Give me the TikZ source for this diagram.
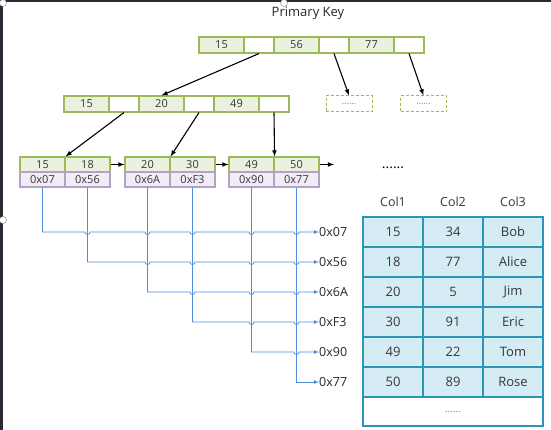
\documentclass[tikz,border=0pt]{standalone}
\usepackage{fontspec}
\setmainfont{Open Sans}
\usetikzlibrary{arrows,positioning,calc}
\definecolor{leafline}{RGB}{155,187,89}
\definecolor{keygreen}{RGB}{235,241,222}
\definecolor{addrline}{RGB}{179,162,199}
\definecolor{addrfill}{RGB}{241,236,246}
\definecolor{tabline}{RGB}{45,148,185}
\definecolor{tabfill}{RGB}{214,236,245}
\definecolor{linkblue}{RGB}{80,140,220}
\definecolor{textgray}{RGB}{55,55,55}
\definecolor{framedark}{RGB}{42,42,52}

\begin{document}
\begin{tikzpicture}[x=1pt,y=-1pt,
    every node/.style={inner sep=0pt,text=textgray,font=\fontsize{11}{13}\selectfont},
    keycell/.style={draw=leafline,fill=keygreen,line width=1.1pt,minimum width=45pt,minimum height=16pt},
    ptrcell/.style={draw=leafline,fill=white,line width=1.1pt,minimum width=30pt,minimum height=16pt},
    leafkey/.style={keycell,minimum height=15pt},
    addrcell/.style={draw=addrline,fill=addrfill,line width=1.1pt,minimum width=45pt,minimum height=15pt},
    morebox/.style={draw=leafline,densely dashed,line width=1pt,minimum width=46pt,minimum height=16pt,text=gray,font=\fontsize{9}{10}\selectfont},
    tabcell/.style={draw=tabline,fill=tabfill,line width=1.4pt,minimum width=60pt,minimum height=30pt,font=\fontsize{13}{15}\selectfont},
    hexlabel/.style={anchor=west,text=black!85,font=\fontsize{12.5}{14}\selectfont},
    tree/.style={->,>=latex,line width=1.1pt},
    addrlink/.style={->,>=latex,draw=linkblue,line width=0.8pt}]
    \useasboundingbox (0,0) rectangle (551,430);
    \fill[framedark] (0,0) rectangle (3,430);
    \fill[framedark] (0,0) rectangle (551,2);
    \draw[gray,fill=white] (3,3) circle (3.5) (284,3) circle (3.5) (3,220) circle (3.5);

    \node[text=black!85,font=\fontsize{13}{15}\selectfont] (title) at (308,13) {Primary Key};

    % root
    \node[keycell] (t15) at (221.5,45) {15};
    \node[ptrcell] (tp1) at (259,45) {};
    \node[keycell] (t56) at (296.5,45) {56};
    \node[ptrcell] (tp2) at (334,45) {};
    \node[keycell] (t77) at (371.5,45) {77};
    \node[ptrcell] (tp3) at (409,45) {};

    % inner node
    \node[keycell] (r15) at (86.5,104) {15};
    \node[ptrcell] (rp1) at (124,104) {};
    \node[keycell] (r20) at (161.5,104) {20};
    \node[ptrcell] (rp2) at (199,104) {};
    \node[keycell] (r49) at (236.5,104) {49};
    \node[ptrcell] (rp3) at (274,104) {};
    \node[morebox] (d1) at (349,104) {......};
    \node[morebox] (d2) at (423.5,104) {......};

    % leaves
    \node[leafkey] (l15) at (42.5,164.5) {15};
    \node[leafkey] (l18) at (87.5,164.5) {18};
    \node[addrcell] (a07) at (42.5,179.5) {0x07};
    \node[addrcell] (a56) at (87.5,179.5) {0x56};
    \node[leafkey] (l20) at (147.5,164.5) {20};
    \node[leafkey] (l30) at (192.5,164.5) {30};
    \node[addrcell] (a6A) at (147.5,179.5) {0x6A};
    \node[addrcell] (aF3) at (192.5,179.5) {0xF3};
    \node[leafkey] (l49) at (251.5,164.5) {49};
    \node[leafkey] (l50) at (296.5,164.5) {50};
    \node[addrcell] (a90) at (251.5,179.5) {0x90};
    \node[addrcell] (a77) at (296.5,179.5) {0x77};
    \coordinate (next) at (334,164.5);

    \draw[tree] (tp1.south) to (r20.north);
    \draw[tree] (tp2.south) to (d1.north);
    \draw[tree] (tp3.south) to (d2.north);
    \draw[tree] (rp1.south) to (l15.north east);
    \draw[tree] (rp2.south) to (l20.north east);
    \draw[tree] (rp3.south) to (l49.north east);
    \draw[tree] (l18.east) to (l20.west);
    \draw[tree] (l30.east) to (l49.west);
    \draw[tree] (l50.east) to (next);

    % row addresses
    \node[hexlabel] (h07) at (319,232) {0x07};
    \node[hexlabel] (h56) at (319,262) {0x56};
    \node[hexlabel] (h6A) at (319,292) {0x6A};
    \node[hexlabel] (hF3) at (319,322) {0xF3};
    \node[hexlabel] (h90) at (319,352) {0x90};
    \node[hexlabel] (h77) at (319,382) {0x77};

    \draw[addrlink] (a07.south) |- ($(a56.south |- h07.west)+(-2.5,0)$) arc (180:0:2.5)
      -- ($(a6A.south |- h07.west)+(-2.5,0)$) arc (180:0:2.5)
      -- ($(aF3.south |- h07.west)+(-2.5,0)$) arc (180:0:2.5)
      -- ($(a90.south |- h07.west)+(-2.5,0)$) arc (180:0:2.5)
      -- ($(a77.south |- h07.west)+(-2.5,0)$) arc (180:0:2.5) -- (h07.west);
    \draw[addrlink] (a56.south) |- ($(a6A.south |- h56.west)+(-2.5,0)$) arc (180:0:2.5)
      -- ($(aF3.south |- h56.west)+(-2.5,0)$) arc (180:0:2.5)
      -- ($(a90.south |- h56.west)+(-2.5,0)$) arc (180:0:2.5)
      -- ($(a77.south |- h56.west)+(-2.5,0)$) arc (180:0:2.5) -- (h56.west);
    \draw[addrlink] (a6A.south) |- ($(aF3.south |- h6A.west)+(-2.5,0)$) arc (180:0:2.5)
      -- ($(a90.south |- h6A.west)+(-2.5,0)$) arc (180:0:2.5)
      -- ($(a77.south |- h6A.west)+(-2.5,0)$) arc (180:0:2.5) -- (h6A.west);
    \draw[addrlink] (aF3.south) |- ($(a90.south |- hF3.west)+(-2.5,0)$) arc (180:0:2.5)
      -- ($(a77.south |- hF3.west)+(-2.5,0)$) arc (180:0:2.5) -- (hF3.west);
    \draw[addrlink] (a90.south) |- ($(a77.south |- h90.west)+(-2.5,0)$) arc (180:0:2.5) -- (h90.west);
    \draw[addrlink] (a77.south) |- (h77.west);

    % table
    \node[text=black,font=\fontsize{14}{16}\selectfont] (dots) at (393,168) {......};
    \node[font=\fontsize{12.5}{14}\selectfont] (col1) at (393,202) {Col1};
    \node[font=\fontsize{12.5}{14}\selectfont] (col2) at (453,202) {Col2};
    \node[font=\fontsize{12.5}{14}\selectfont] (col3) at (513,202) {Col3};
    \node[tabcell] (rowA1) at (393,232) {15};
    \node[tabcell] (rowA2) at (453,232) {34};
    \node[tabcell] (rowA3) at (513,232) {Bob};
    \node[tabcell] (rowB1) at (393,262) {18};
    \node[tabcell] (rowB2) at (453,262) {77};
    \node[tabcell] (rowB3) at (513,262) {Alice};
    \node[tabcell] (rowC1) at (393,292) {20};
    \node[tabcell] (rowC2) at (453,292) {5};
    \node[tabcell] (rowC3) at (513,292) {Jim};
    \node[tabcell] (rowD1) at (393,322) {30};
    \node[tabcell] (rowD2) at (453,322) {91};
    \node[tabcell] (rowD3) at (513,322) {Eric};
    \node[tabcell] (rowE1) at (393,352) {49};
    \node[tabcell] (rowE2) at (453,352) {22};
    \node[tabcell] (rowE3) at (513,352) {Tom};
    \node[tabcell] (rowF1) at (393,382) {50};
    \node[tabcell] (rowF2) at (453,382) {89};
    \node[tabcell] (rowF3) at (513,382) {Rose};
    \node[tabcell,fill=white,minimum width=180pt,minimum height=29pt,text=gray,font=\fontsize{10}{12}\selectfont] (rowmore) at (453,411.5) {......};
  \end{tikzpicture}
\end{document}
